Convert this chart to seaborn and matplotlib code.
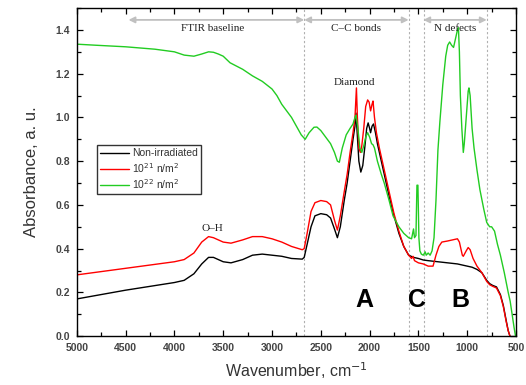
import matplotlib
matplotlib.use("Agg")
import matplotlib.pyplot as plt
from matplotlib.ticker import MultipleLocator
import seaborn as sns
import pandas as pd

# ---------------- data ----------------
black_wn = [5000, 4500, 4000, 3900, 3800, 3720, 3650, 3600, 3500, 3420, 3300, 3200, 3100, 3000,
            2900, 2800, 2690, 2670, 2640, 2600, 2560, 2500, 2440, 2400, 2360, 2330, 2300, 2260,
            2230, 2200, 2170, 2150, 2140, 2130, 2110, 2090, 2070, 2050, 2030, 2015, 2000, 1990,
            1975, 1960, 1940, 1920, 1880, 1850, 1800, 1750, 1700, 1650, 1600, 1550, 1500, 1450,
            1400, 1300, 1200, 1100, 1000, 950, 900, 850, 800, 770, 740, 700, 660, 630, 600, 580, 562]
black_ab = [0.17, 0.21, 0.245, 0.255, 0.285, 0.33, 0.36, 0.36, 0.34, 0.335, 0.35, 0.37, 0.375, 0.37,
            0.365, 0.355, 0.352, 0.36, 0.42, 0.50, 0.55, 0.56, 0.555, 0.54, 0.49, 0.45, 0.50, 0.62,
            0.70, 0.80, 0.90, 0.96, 1.02, 0.95, 0.80, 0.75, 0.78, 0.86, 0.95, 0.975, 0.95, 0.93,
            0.96, 0.97, 0.93, 0.88, 0.80, 0.74, 0.64, 0.55, 0.47, 0.41, 0.37, 0.36, 0.355, 0.348,
            0.345, 0.34, 0.335, 0.33, 0.32, 0.315, 0.305, 0.29, 0.255, 0.24, 0.232, 0.225, 0.19, 0.14, 0.07, 0.025, 0.0]

red_wn = [5000, 4500, 4000, 3900, 3800, 3720, 3650, 3600, 3500, 3420, 3300, 3200, 3100, 3000,
          2900, 2800, 2690, 2670, 2640, 2600, 2560, 2500, 2440, 2400, 2360, 2330, 2300, 2260,
          2230, 2200, 2170, 2150, 2135, 2125, 2110, 2095, 2080, 2060, 2040, 2020, 2005, 1990,
          1975, 1965, 1950, 1930, 1900, 1850, 1800, 1750, 1700, 1650, 1600, 1570, 1555, 1540,
          1500, 1450, 1400, 1350, 1320, 1290, 1260, 1200, 1150, 1100, 1080, 1050, 1040, 1010,
          990, 970, 940, 900, 850, 800, 770, 740, 700, 660, 630, 600, 580, 562]
red_ab = [0.28, 0.31, 0.34, 0.35, 0.38, 0.43, 0.455, 0.45, 0.43, 0.425, 0.44, 0.455, 0.455, 0.445,
          0.43, 0.41, 0.395, 0.40, 0.47, 0.57, 0.61, 0.62, 0.615, 0.60, 0.53, 0.485, 0.55, 0.66,
          0.74, 0.84, 0.93, 1.00, 1.135, 1.00, 0.86, 0.84, 0.87, 0.95, 1.05, 1.08, 1.07, 1.03,
          1.06, 1.075, 1.00, 0.93, 0.86, 0.76, 0.66, 0.56, 0.48, 0.41, 0.37, 0.355, 0.365, 0.345,
          0.335, 0.33, 0.32, 0.32, 0.37, 0.41, 0.43, 0.435, 0.44, 0.445, 0.43, 0.37, 0.365, 0.39,
          0.405, 0.395, 0.355, 0.32, 0.29, 0.25, 0.235, 0.228, 0.22, 0.185, 0.135, 0.065, 0.025, 0.0]

green_wn = [5000, 4800, 4500, 4200, 4000, 3900, 3800, 3720, 3650, 3600, 3550, 3500, 3430, 3300,
            3200, 3100, 3000, 2950, 2900, 2850, 2800, 2750, 2700, 2660, 2620, 2570, 2540, 2500,
            2450, 2400, 2360, 2330, 2310, 2280, 2240, 2200, 2170, 2150, 2140, 2120, 2100, 2080,
            2060, 2040, 2020, 2000, 1980, 1965, 1950, 1920, 1880, 1850, 1800, 1760, 1700, 1650,
            1600, 1570, 1550, 1540, 1525, 1515, 1505, 1495, 1485, 1470, 1450, 1430, 1420, 1400,
            1380, 1360, 1340, 1320, 1300, 1280, 1250, 1220, 1200, 1180, 1160, 1140, 1120, 1100,
            1090, 1080, 1070, 1055, 1040, 1030, 1010, 990, 982, 970, 950, 930, 900, 870, 830, 800,
            770, 750, 720, 690, 660, 620, 580, 560, 540, 520, 505]
green_ab = [1.335, 1.33, 1.323, 1.312, 1.30, 1.285, 1.28, 1.29, 1.30, 1.298, 1.29, 1.28, 1.25, 1.22,
            1.19, 1.165, 1.13, 1.10, 1.06, 1.03, 1.00, 0.96, 0.92, 0.90, 0.93, 0.955, 0.956, 0.94,
            0.91, 0.88, 0.84, 0.80, 0.795, 0.86, 0.92, 0.95, 0.97, 1.00, 1.01, 0.95, 0.86, 0.84,
            0.87, 0.91, 0.93, 0.91, 0.88, 0.875, 0.86, 0.80, 0.74, 0.70, 0.62, 0.55, 0.50, 0.47,
            0.45, 0.445, 0.49, 0.45, 0.46, 0.69, 0.69, 0.45, 0.39, 0.375, 0.37, 0.385, 0.37, 0.38,
            0.37, 0.39, 0.45, 0.62, 0.85, 0.98, 1.15, 1.28, 1.33, 1.345, 1.33, 1.32, 1.36, 1.40,
            1.41, 1.30, 1.10, 0.95, 0.84, 0.88, 1.00, 1.12, 1.135, 1.10, 0.95, 0.86, 0.76, 0.67, 0.58, 0.52,
            0.50, 0.50, 0.48, 0.42, 0.37, 0.29, 0.20, 0.16, 0.10, 0.04, 0.0]

series_labels = ["Non-irradiated", r"10$^{21}$ n/m$^2$", r"10$^{22}$ n/m$^2$"]
series_colors = ["#000000", "#ff0000", "#22cc22"]

region_lines = [2670, 1600, 1440, 797]
region_arrows = [(4470, 2670, "FTIR baseline"), (2670, 1600, "C\u2013C bonds"), (1450, 800, "N defects")]
peak_labels = [(2160, 1.16, "Diamond"), (3610, 0.49, "O\u2013H")]
band_letters = [(2050, 0.165, "A"), (1515, 0.165, "C"), (1075, 0.165, "B")]

# ---------------- plot ----------------
sns.set_style("ticks")
plt.rcParams["font.family"] = ["Liberation Sans", "DejaVu Sans"]

fig = plt.figure(figsize=(5.26, 3.85), dpi=100)
ax = fig.add_axes([0.146, 0.127, 0.835, 0.852])

frames = [
    pd.DataFrame({"wn": black_wn, "ab": black_ab}),
    pd.DataFrame({"wn": red_wn, "ab": red_ab}),
    pd.DataFrame({"wn": green_wn, "ab": green_ab}),
]
for df, lab, col in zip(frames, series_labels, series_colors):
    sns.lineplot(data=df, x="wn", y="ab", ax=ax, color=col, lw=1.0, label=lab,
                 estimator=None, sort=False)

for xv in region_lines:
    ax.axvline(xv, color="#b0b0b0", ls=(0, (2, 2)), lw=0.8, zorder=0)

for x0, x1, txt in region_arrows:
    ax.annotate("", xy=(x1, 1.446), xytext=(x0, 1.446),
                arrowprops=dict(arrowstyle="<|-|>", color="#c0c0c0", lw=1.3,
                                mutation_scale=9, shrinkA=0, shrinkB=0))
    ax.text((x0 + x1) / 2 + (0 if txt != "FTIR baseline" else 40), 1.405, txt,
            family=["Liberation Serif"], fontsize=8, ha="center", va="center", color="#222222")

for xv, yv, txt in peak_labels:
    ax.text(xv, yv, txt, family=["Liberation Serif"], fontsize=8, ha="center", va="center",
            color="#222222")

for xv, yv, txt in band_letters:
    ax.text(xv, yv, txt, fontsize=18, fontweight="bold", ha="center", va="center", color="black")

ax.set_xlim(5000, 500)
ax.set_ylim(0, 1.5)
ax.xaxis.set_major_locator(MultipleLocator(500))
ax.xaxis.set_minor_locator(MultipleLocator(250))
ax.yaxis.set_major_locator(MultipleLocator(0.2))
ax.yaxis.set_minor_locator(MultipleLocator(0.1))
ax.set_yticks([0.0, 0.2, 0.4, 0.6, 0.8, 1.0, 1.2, 1.4])
ax.tick_params(which="both", direction="in", top=True, right=True, color="black", width=0.9)
ax.tick_params(which="major", length=4.5, labelsize=7.5, labelcolor="#444444", pad=5)
ax.tick_params(which="minor", length=2.8)
for lbl in ax.get_xticklabels() + ax.get_yticklabels():
    lbl.set_fontweight("bold")
for s in ax.spines.values():
    s.set_linewidth(1.0)
    s.set_color("black")

ax.set_xlabel(r"Wavenumber, cm$^{-1}$", fontsize=11.5, color="#333333", labelpad=5)
ax.set_ylabel("Absorbance, a. u.", fontsize=12, color="#333333", labelpad=12)

leg = ax.legend(loc="upper left", bbox_to_anchor=(0.046, 0.582), fontsize=7.5, frameon=True,
                fancybox=False, edgecolor="black", handlelength=2.8, handletextpad=0.3,
                borderpad=0.3, labelspacing=0.25, borderaxespad=0)
leg.get_frame().set_linewidth(1.0)
for t in leg.get_texts():
    t.set_color("#333333")

fig.savefig("out.png", dpi=100)
